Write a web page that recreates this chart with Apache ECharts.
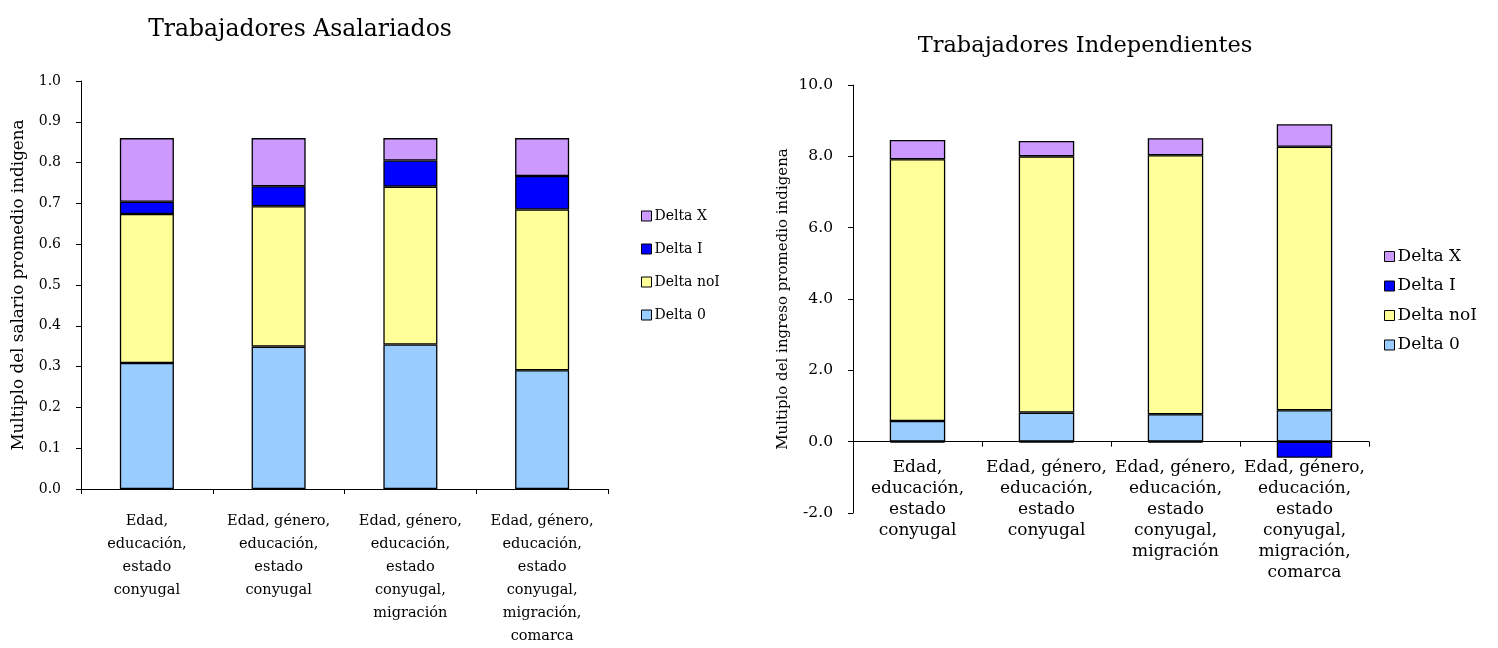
<!DOCTYPE html>
<html>
<head>
<meta charset="utf-8">
<script src="https://cdn.jsdelivr.net/npm/echarts@6/dist/echarts.min.js"></script>
<style>html,body{margin:0;padding:0;background:#fff}#c{width:1498px;height:648px}</style>
</head>
<body>
<div id="c"></div>
<script>
const categories = [
  "Edad,\neducación,\nestado\nconyugal",
  "Edad, género,\neducación,\nestado\nconyugal",
  "Edad, género,\neducación,\nestado\nconyugal,\nmigración",
  "Edad, género,\neducación,\nestado\nconyugal,\nmigración,\ncomarca"
];
const seriesNames = ["Delta 0", "Delta noI", "Delta I", "Delta X"];
const legendOrder = ["Delta X", "Delta I", "Delta noI", "Delta 0"];

// Trabajadores Asalariados
const asalDelta0   = [0.309, 0.349, 0.354, 0.291];
const asalDeltaNoI = [0.365, 0.344, 0.387, 0.394];
const asalDeltaI   = [0.030, 0.049, 0.064, 0.082];
const asalDeltaX   = [0.156, 0.118, 0.055, 0.093];

// Trabajadores Independientes
const indDelta0   = [0.58, 0.815, 0.77, 0.88];
const indDeltaNoI = [7.34, 7.185, 7.26, 7.39];
const indDeltaI   = [-0.03, -0.03, -0.03, -0.45];
const indDeltaX   = [0.54, 0.43, 0.48, 0.63];

const colors = {"Delta 0": "#99CCFF", "Delta noI": "#FFFF99", "Delta I": "#0000FF", "Delta X": "#CC99FF"};
const FONT = "DejaVu Serif";

const leftData = [asalDelta0, asalDeltaNoI, asalDeltaI, asalDeltaX];
const rightData = [indDelta0, indDeltaNoI, indDeltaI, indDeltaX];

const series = [];
seriesNames.forEach((n, i) => {
  series.push({
    name: n, type: 'bar', stack: 'L', xAxisIndex: 0, yAxisIndex: 0,
    barWidth: '41%', data: leftData[i],
    itemStyle: {color: colors[n], borderColor: '#000', borderWidth: 1.3}
  });
});
seriesNames.forEach((n, i) => {
  series.push({
    name: n, type: 'bar', stack: 'R', xAxisIndex: 1, yAxisIndex: 1,
    barWidth: '43%', data: rightData[i],
    itemStyle: {color: colors[n], borderColor: '#000', borderWidth: 1.3}
  });
});

const axisLine = {show: true, lineStyle: {color: '#000', width: 1}};
const chart = echarts.init(document.getElementById('c'));
chart.setOption({
  animation: false,
  textStyle: {fontFamily: FONT, color: '#000'},
  title: [
    {text: 'Trabajadores Asalariados', left: 295, top: 13, textAlign: 'center',
     textStyle: {fontFamily: FONT, fontWeight: 'normal', fontSize: 23.5, color: '#000'}},
    {text: 'Trabajadores Independientes', left: 1080, top: 30, textAlign: 'center',
     textStyle: {fontFamily: FONT, fontWeight: 'normal', fontSize: 22.5, color: '#000'}}
  ],
  legend: [
    {data: legendOrder, orient: 'vertical', left: 636, top: 204, itemGap: 19,
     icon: 'rect', itemWidth: 10, itemHeight: 10,
     itemStyle: {borderColor: '#000', borderWidth: 1},
     textStyle: {fontFamily: FONT, fontSize: 14, color: '#000', padding: [0, 0, 0, -2]}},
    {data: legendOrder, orient: 'vertical', left: 1379, top: 243, itemGap: 12.5,
     icon: 'rect', itemWidth: 10, itemHeight: 10,
     itemStyle: {borderColor: '#000', borderWidth: 1},
     textStyle: {fontFamily: FONT, fontSize: 17, color: '#000', padding: [0, 0, 0, -2]}}
  ],
  grid: [
    {left: 81, top: 81, width: 527, height: 412.5},
    {left: 853, top: 85, width: 516, height: 428}
  ],
  xAxis: [
    {type: 'category', gridIndex: 0, data: categories, axisLine: axisLine,
     axisTick: {show: true, length: 5, lineStyle: {color: '#000'}},
     axisLabel: {fontFamily: FONT, fontSize: 14.5, color: '#000', lineHeight: 23, margin: 21, interval: 0}},
    {type: 'category', gridIndex: 1, data: categories, axisLine: axisLine,
     axisTick: {show: true, length: 5, lineStyle: {color: '#000'}},
     axisLabel: {show: false}},
    {type: 'category', gridIndex: 1, data: categories, position: 'bottom',
     axisLine: {show: false, onZero: false}, axisTick: {show: false}, offset: -72,
     axisLabel: {fontFamily: FONT, fontSize: 17, color: '#000', lineHeight: 21, margin: 16.5, interval: 0}}
  ],
  yAxis: [
    {type: 'value', gridIndex: 0, min: 0, max: 1, interval: 0.1,
     name: 'Multiplo del salario promedio indigena', nameLocation: 'middle', nameGap: 54,
     nameTextStyle: {fontFamily: FONT, fontSize: 16.8, color: '#000'},
     axisLine: axisLine, axisTick: {show: true, length: 5, lineStyle: {color: '#000'}},
     splitLine: {show: false},
     axisLabel: {fontFamily: FONT, fontSize: 14, color: '#000', margin: 20, formatter: v => v.toFixed(1)}},
    {type: 'value', gridIndex: 1, min: -2, max: 10, interval: 2,
     name: 'Multiplo del ingreso promedio indigena', nameLocation: 'middle', nameGap: 62,
     nameTextStyle: {fontFamily: FONT, fontSize: 15, color: '#000'},
     axisLine: axisLine, axisTick: {show: true, length: 5, lineStyle: {color: '#000'}},
     splitLine: {show: false},
     axisLabel: {fontFamily: FONT, fontSize: 15.5, color: '#000', margin: 20, formatter: v => v.toFixed(1)}}
  ],
  series: series
});
</script>
</body>
</html>
